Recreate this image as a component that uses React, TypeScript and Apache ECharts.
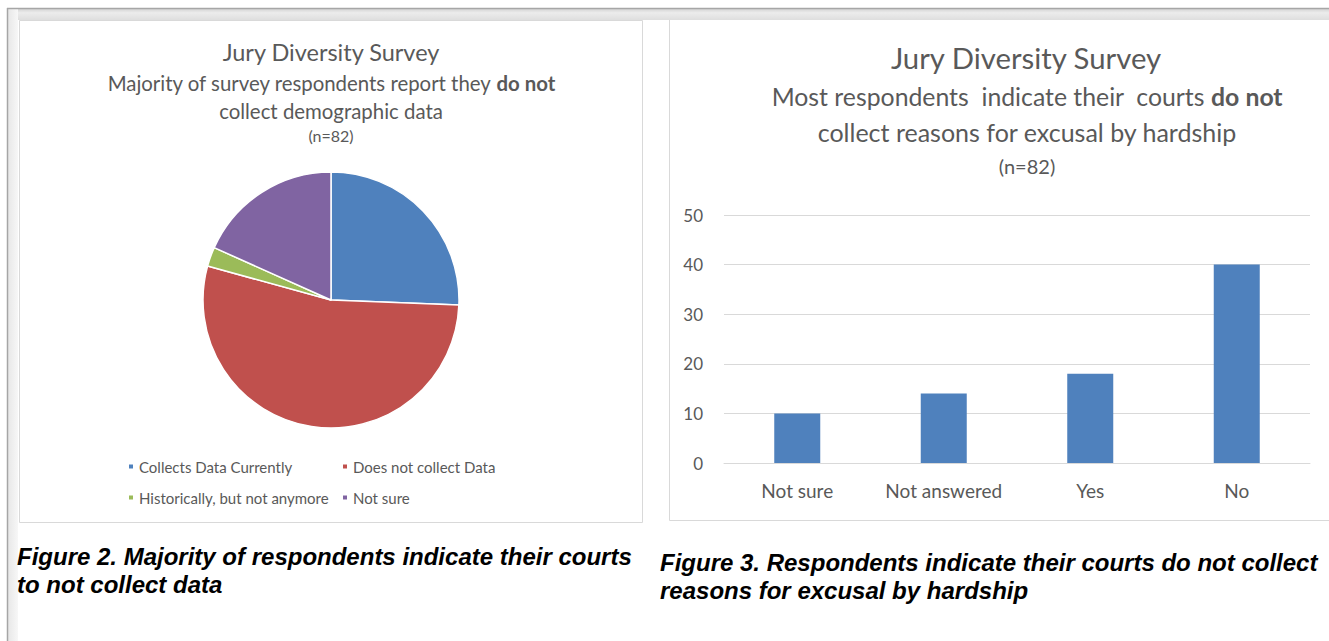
import React, { useEffect, useRef } from "react";
import * as echarts from "echarts";

const pieCategories = [
  "Collects Data Currently",
  "Does not collect Data",
  "Historically, but not anymore",
  "Not sure",
];
const pieValues = [21, 44, 2, 15];
const pieColors = ["#4F81BD", "#C0504D", "#9BBB59", "#8064A2"];

const barCategories = ["Not sure", "Not answered", "Yes", "No"];
const barValues = [10, 14, 18, 40];

const FONT = "Lato, 'Open Sans', sans-serif";
const CAP_FONT = "'Liberation Sans', Arial, sans-serif";
const TXT = "#595959";

export default function App() {
  const ref = useRef<HTMLDivElement>(null);
  useEffect(() => {
    if (!ref.current) return;
    const chart = echarts.init(ref.current, null, { renderer: "svg" });

    const legendPos = [
      [127, 459],
      [341, 459],
      [127, 490],
      [341, 490],
    ];

    const option: any = {
      animation: false,
      backgroundColor: "#ffffff",
      color: pieColors,
      legend: pieCategories.map((name, i) => ({
        data: [name],
        left: legendPos[i][0],
        top: legendPos[i][1],
        padding: 0,
        icon: "rect",
        itemWidth: 6,
        itemHeight: 6,
        textStyle: { fontSize: 15, color: TXT, fontFamily: FONT },
      })),
      grid: { left: 724, right: 19, top: 215, bottom: 178 },
      xAxis: {
        type: "category",
        data: barCategories,
        axisTick: { show: false },
        axisLine: { lineStyle: { color: "#D9D9D9", width: 1 } },
        axisLabel: { color: TXT, fontSize: 19, fontFamily: FONT, margin: 18, interval: 0, hideOverlap: false },
      },
      yAxis: {
        type: "value",
        min: 0,
        max: 50,
        interval: 10,
        axisLine: { show: false },
        axisTick: { show: false },
        splitLine: { lineStyle: { color: "#D9D9D9", width: 1 } },
        axisLabel: { color: TXT, fontSize: 17, fontFamily: FONT, margin: 21 },
      },
      series: [
        {
          type: "pie",
          center: [331, 300],
          radius: 128,
          startAngle: 90,
          clockwise: true,
          label: { show: false },
          labelLine: { show: false },
          itemStyle: { borderColor: "#ffffff", borderWidth: 1.5 },
          data: pieCategories.map((name, i) => ({ name, value: pieValues[i] })),
        },
        {
          type: "bar",
          data: barValues,
          barWidth: 46,
          itemStyle: { color: "#4F81BD" },
        },
      ],
      graphic: [
        // page frame
        {
          type: "rect",
          shape: { x: 7, y: 8, width: 1322, height: 12 },
          style: {
            fill: {
              type: "linear",
              x: 0, y: 0, x2: 0, y2: 1,
              colorStops: [
                { offset: 0, color: "#cfcfcf" },
                { offset: 0.4, color: "#ececec" },
                { offset: 1, color: "#dedede" },
              ],
            },
          },
          silent: true,
        },
        {
          type: "rect",
          shape: { x: 7, y: 8, width: 11, height: 633 },
          style: {
            fill: {
              type: "linear",
              x: 0, y: 0, x2: 1, y2: 0,
              colorStops: [
                { offset: 0, color: "#e6e6e6" },
                { offset: 1, color: "#f7f7f7" },
              ],
            },
          },
          silent: true,
        },
        {
          type: "line",
          shape: { x1: 7, y1: 8.5, x2: 1329, y2: 8.5 },
          style: { stroke: "#a6a6a6", lineWidth: 1.5 },
          silent: true,
        },
        {
          type: "line",
          shape: { x1: 7.5, y1: 8, x2: 7.5, y2: 641 },
          style: { stroke: "#a6a6a6", lineWidth: 1.5 },
          silent: true,
        },
        // chart boxes
        {
          type: "rect",
          shape: { x: 19.5, y: 20.5, width: 623, height: 502 },
          style: { fill: "#ffffff", stroke: "#D9D9D9", lineWidth: 1 },
          z: -1,
          silent: true,
        },
        {
          type: "rect",
          shape: { x: 669.5, y: 19.5, width: 700, height: 501 },
          style: { fill: "#ffffff", stroke: "#D9D9D9", lineWidth: 1 },
          z: -1,
          silent: true,
        },
        // left titles
        {
          type: "text", x: 331, y: 52,
          style: { text: "Jury Diversity Survey", fill: TXT, font: `23.5px ${FONT}`, align: "center", verticalAlign: "middle" },
        },
        {
          type: "text", x: 331, y: 83,
          style: {
            text: "Majority of survey respondents report they {b|do not}",
            fill: TXT, font: `20.4px ${FONT}`, align: "center", verticalAlign: "middle",
            rich: { b: { fontWeight: "bold", fontSize: 20.4, fontFamily: FONT, fill: TXT } },
          },
        },
        {
          type: "text", x: 331, y: 111,
          style: { text: "collect demographic data", fill: TXT, font: `20.4px ${FONT}`, align: "center", verticalAlign: "middle" },
        },
        {
          type: "text", x: 331, y: 135,
          style: { text: "(n=82)", fill: TXT, font: `16px ${FONT}`, align: "center", verticalAlign: "middle" },
        },
        // right titles
        {
          type: "text", x: 1026, y: 57,
          style: { text: "Jury Diversity Survey", fill: TXT, font: `29.3px ${FONT}`, align: "center", verticalAlign: "middle" },
        },
        {
          type: "text", x: 1027, y: 96,
          style: {
            text: "Most respondents  indicate their  courts {b|do not}",
            fill: TXT, font: `24.8px ${FONT}`, align: "center", verticalAlign: "middle",
            rich: { b: { fontWeight: "bold", fontSize: 24.8, fontFamily: FONT, fill: TXT } },
          },
        },
        {
          type: "text", x: 1027, y: 132,
          style: { text: "collect reasons for excusal by hardship", fill: TXT, font: `25px ${FONT}`, align: "center", verticalAlign: "middle" },
        },
        {
          type: "text", x: 1027, y: 166,
          style: { text: "(n=82)", fill: TXT, font: `20px ${FONT}`, align: "center", verticalAlign: "middle" },
        },
        // captions
        {
          type: "text", x: 17, y: 556,
          style: { text: "Figure 2. Majority of respondents indicate their courts", fill: "#000", font: `italic bold 24px ${CAP_FONT}`, verticalAlign: "middle" },
        },
        {
          type: "text", x: 17, y: 584,
          style: { text: "to not collect data", fill: "#000", font: `italic bold 24px ${CAP_FONT}`, verticalAlign: "middle" },
        },
        {
          type: "text", x: 660, y: 562,
          style: { text: "Figure 3. Respondents indicate their courts do not collect", fill: "#000", font: `italic bold 24px ${CAP_FONT}`, verticalAlign: "middle" },
        },
        {
          type: "text", x: 660, y: 590,
          style: { text: "reasons for excusal by hardship", fill: "#000", font: `italic bold 24px ${CAP_FONT}`, verticalAlign: "middle" },
        },
      ],
    };
    chart.setOption(option);
    return () => chart.dispose();
  }, []);
  return (
    <div
      ref={ref}
      style={{ position: "fixed", left: 0, top: 0, width: 1329, height: 641 }}
    />
  );
}
